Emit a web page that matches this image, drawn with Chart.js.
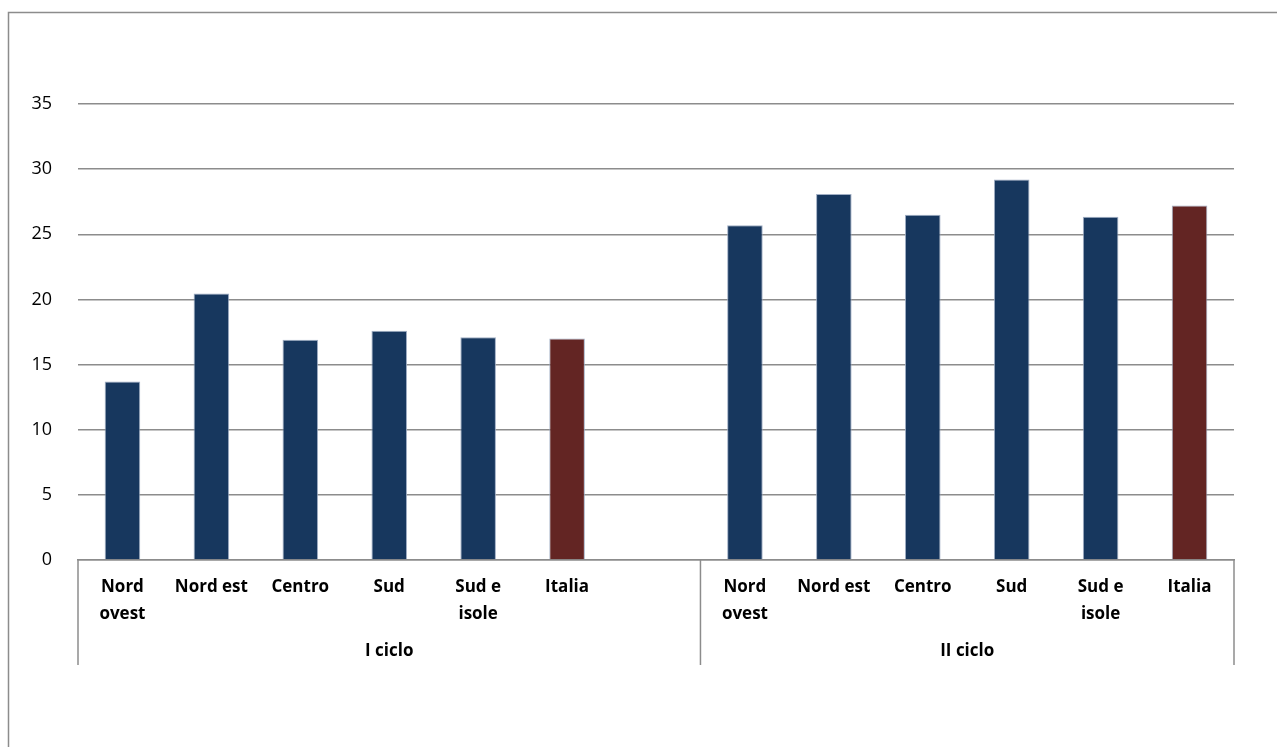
<!DOCTYPE html>
<html lang="it">
<head>
<meta charset="utf-8">
<title>I ciclo / II ciclo per ripartizione</title>
<script src="https://cdn.jsdelivr.net/npm/chart.js@4/dist/chart.umd.min.js"></script>
<style>
  html, body { margin: 0; padding: 0; background: #fff; }
  #wrap { position: relative; width: 1277px; height: 747px; }
</style>
</head>
<body>
<div id="wrap"><canvas id="chart" width="1277" height="747"></canvas></div>
<script>
// Regions inside each school cycle; the first cycle keeps an empty slot at its end
const groups = ["I ciclo", "II ciclo"];
const regionsI = [["Nord", "ovest"], "Nord est", "Centro", "Sud", ["Sud e", "isole"], "Italia", ""];
const regionsII = [["Nord", "ovest"], "Nord est", "Centro", "Sud", ["Sud e", "isole"], "Italia"];
const valuesI = [13.7, 20.45, 16.9, 17.6, 17.1, 17.0, null];
const valuesII = [25.7, 28.1, 26.5, 29.2, 26.35, 27.2];
const yTicks = [0, 5, 10, 15, 20, 25, 30, 35];

const NAVY = "#17375e";
const RED = "#632523";

const labels = regionsI.concat(regionsII);
const values = valuesI.concat(valuesII);
const colors = labels.map(l => (l === "Italia" ? RED : NAVY));
const groupSpans = [
  { name: groups[0], from: 0, to: regionsI.length - 1 },
  { name: groups[1], from: regionsI.length, to: labels.length - 1 }
];

const FONT = "'Open Sans', 'Liberation Sans', sans-serif";

// Outer frame, group separators below the axis and group captions
const decorations = {
  id: "decorations",
  beforeDraw(chart) {
    const ctx = chart.ctx;
    ctx.save();
    ctx.strokeStyle = "#8c8c8c";
    ctx.lineWidth = 1.5;
    ctx.beginPath();
    ctx.moveTo(8.5, 747);
    ctx.lineTo(8.5, 12.5);
    ctx.lineTo(1277, 12.5);
    ctx.stroke();
    ctx.restore();
  },
  afterDraw(chart) {
    const ctx = chart.ctx;
    const x = chart.scales.x;
    const area = chart.chartArea;
    const half = (x.getPixelForValue(1) - x.getPixelForValue(0)) / 2;
    const bottom = area.bottom + 105;
    ctx.save();
    ctx.strokeStyle = "#8c8c8c";
    ctx.lineWidth = 1.5;
    const edges = [x.getPixelForValue(0) - half];
    groupSpans.forEach(g => edges.push(x.getPixelForValue(g.to) + half));
    edges.forEach(px => {
      ctx.beginPath();
      ctx.moveTo(px, area.bottom);
      ctx.lineTo(px, bottom);
      ctx.stroke();
    });
    ctx.fillStyle = "#000";
    ctx.font = "bold 17px " + FONT;
    ctx.textAlign = "center";
    ctx.textBaseline = "middle";
    groupSpans.forEach(g => {
      const cx = (x.getPixelForValue(g.from) - half + x.getPixelForValue(g.to) + half) / 2;
      ctx.fillText(g.name, cx, area.bottom + 91);
    });
    ctx.restore();
  }
};

new Chart(document.getElementById("chart"), {
  type: "bar",
  data: {
    labels: labels,
    datasets: [{
      data: values,
      backgroundColor: colors,
      borderColor: "rgba(150,165,190,0.9)",
      borderWidth: 1,
      barPercentage: 0.4,
      categoryPercentage: 1.0
    }]
  },
  options: {
    responsive: false,
    animation: false,
    layout: { padding: { left: 0, top: 104, right: 43, bottom: 0 } },
    plugins: {
      legend: { display: false },
      tooltip: { enabled: false }
    },
    scales: {
      x: {
        grid: { display: false },
        border: { display: true, color: "#8c8c8c", width: 1.5 },
        ticks: {
          autoSkip: false,
          maxRotation: 0,
          color: "#000",
          padding: 6,
          font: { family: FONT, size: 17, weight: "bold", lineHeight: 1.58 }
        },
        afterFit(scale) { scale.height = 187; }
      },
      y: {
        min: 0,
        max: 35,
        afterBuildTicks(scale) { scale.ticks = yTicks.map(v => ({ value: v })); },
        grid: { color: "#8c8c8c", lineWidth: 1.5, drawTicks: false },
        border: { display: false },
        ticks: {
          color: "#000",
          padding: 26,
          font: { family: FONT, size: 18 }
        },
        afterFit(scale) { scale.width = 78; }
      }
    }
  },
  plugins: [decorations]
});
</script>
</body>
</html>
